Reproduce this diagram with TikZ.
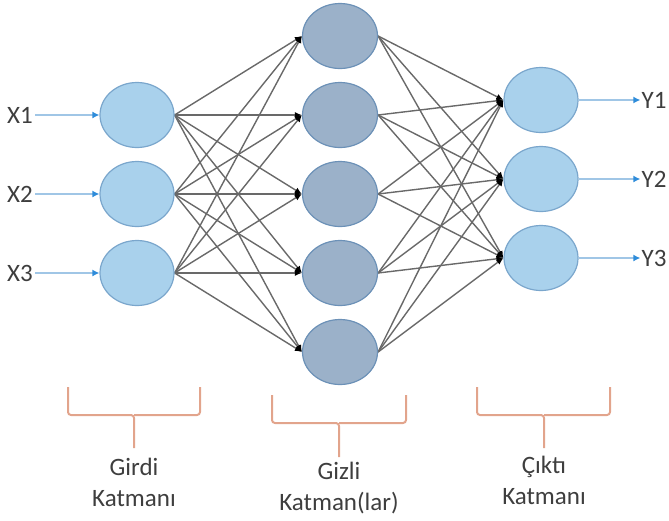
\documentclass[tikz,border=0pt]{standalone}
\usepackage{fontspec}
\setmainfont{Carlito}
\usetikzlibrary{arrows.meta,shapes.geometric}

\definecolor{acikmavi}{RGB}{169,209,236}
\definecolor{mavikenar}{RGB}{122,166,204}
\definecolor{gizlimavi}{RGB}{155,177,201}
\definecolor{gizlikenar}{RGB}{108,145,183}
\definecolor{bagrengi}{RGB}{105,105,105}
\definecolor{okrengi}{RGB}{160,198,230}
\definecolor{okucu}{RGB}{46,140,218}
\definecolor{parantezrengi}{RGB}{226,164,140}
\definecolor{yazirengi}{RGB}{62,62,62}

\begin{document}
\begin{tikzpicture}[x=1pt,y=-1pt]
\tikzstyle{girdi} = [ellipse,draw=mavikenar,fill=acikmavi,line width=1.2pt,minimum width=74pt,minimum height=65pt,inner sep=0pt,node distance=79pt]
\tikzstyle{gizli} = [ellipse,draw=gizlikenar,fill=gizlimavi,line width=1.2pt,minimum width=75pt,minimum height=65pt,inner sep=0pt,node distance=79pt]
\tikzstyle{bag} = [draw=bagrengi,line width=1.4pt,-{Latex[black,length=7pt,width=6pt]}]
\tikzstyle{ok} = [draw=okrengi,line width=2.5pt,-{Latex[okucu,length=7pt,width=7pt]}]
\tikzstyle{yazi} = [text=yazirengi,font=\fontsize{25}{31}\selectfont,inner sep=2pt,align=center]
\tikzstyle{parantez} = [draw=parantezrengi,line width=2pt,rounded corners=3pt]

\pgfdeclarelayer{background}
\pgfsetlayers{background,main}

\useasboundingbox (0,0) rectangle (669,520);

\node[gizli] (h1) at (340,36) {};
\node[gizli,below of=h1] (h2) {};
\node[gizli,below of=h2] (h3) {};
\node[gizli,below of=h3] (h4) {};
\node[gizli,below of=h4] (h5) {};

\node[girdi,node distance=203pt,left of=h2] (g1) {};
\node[girdi,below of=g1] (g2) {};
\node[girdi,below of=g2] (g3) {};

\node[girdi] (c1) at (541,100) {};
\node[girdi,below of=c1] (c2) {};
\node[girdi,below of=c2] (c3) {};

\node[yazi,node distance=117pt,left of=g1] (x1) {X1};
\node[yazi,node distance=117pt,left of=g2] (x2) {X2};
\node[yazi,node distance=117pt,left of=g3] (x3) {X3};
\node[yazi,node distance=113pt,right of=c1,inner sep=1pt] (y1) {Y1};
\node[yazi,node distance=113pt,right of=c2,inner sep=1pt] (y2) {Y2};
\node[yazi,node distance=113pt,right of=c3,inner sep=1pt] (y3) {Y3};

\draw[ok] (x1) -- (g1);
\draw[ok] (x2) -- (g2);
\draw[ok] (x3) -- (g3);
\draw[ok] (c1) -- (y1);
\draw[ok] (c2) -- (y2);
\draw[ok] (c3) -- (y3);

\begin{pgfonlayer}{background}
\draw[bag] (g1.east) -- (h1.west);
\draw[bag] (g1.east) -- (h2.west);
\draw[bag] (g1.east) -- (h3.west);
\draw[bag] (g1.east) -- (h4.west);
\draw[bag] (g1.east) -- (h5.west);
\draw[bag] (g2.east) -- (h1.west);
\draw[bag] (g2.east) -- (h2.west);
\draw[bag] (g2.east) -- (h3.west);
\draw[bag] (g2.east) -- (h4.west);
\draw[bag] (g2.east) -- (h5.west);
\draw[bag] (g3.east) -- (h1.west);
\draw[bag] (g3.east) -- (h2.west);
\draw[bag] (g3.east) -- (h3.west);
\draw[bag] (g3.east) -- (h4.west);
\draw[bag] (g3.east) -- (h5.west);

\draw[bag] (h1.east) -- (c1.west);
\draw[bag] (h1.east) -- (c2.west);
\draw[bag] (h1.east) -- (c3.west);
\draw[bag] (h2.east) -- (c1.west);
\draw[bag] (h2.east) -- (c2.west);
\draw[bag] (h2.east) -- (c3.west);
\draw[bag] (h3.east) -- (c1.west);
\draw[bag] (h3.east) -- (c2.west);
\draw[bag] (h3.east) -- (c3.west);
\draw[bag] (h4.east) -- (c1.west);
\draw[bag] (h4.east) -- (c2.west);
\draw[bag] (h4.east) -- (c3.west);
\draw[bag] (h5.east) -- (c1.west);
\draw[bag] (h5.east) -- (c2.west);
\draw[bag] (h5.east) -- (c3.west);
\end{pgfonlayer}

% katman etiketleri
\draw[parantez] (68,387) |- (134,415) -- (134,448);
\draw[parantez] (200,387) |- (134,415);
\draw[parantez] (272,395) |- (339,423) -- (339,457);
\draw[parantez] (406,395) |- (339,423);
\draw[parantez] (477,387) |- (544,415) -- (544,448);
\draw[parantez] (610,387) |- (544,415);

\node[yazi] (tg) at (134,482) {Girdi\\Katmanı};
\node[yazi] (th) at (339,488) {Gizli\\Katman(lar)};
\node[yazi] (tc) at (544,480) {Çıktı\\Katmanı};

\end{tikzpicture}
\end{document}
